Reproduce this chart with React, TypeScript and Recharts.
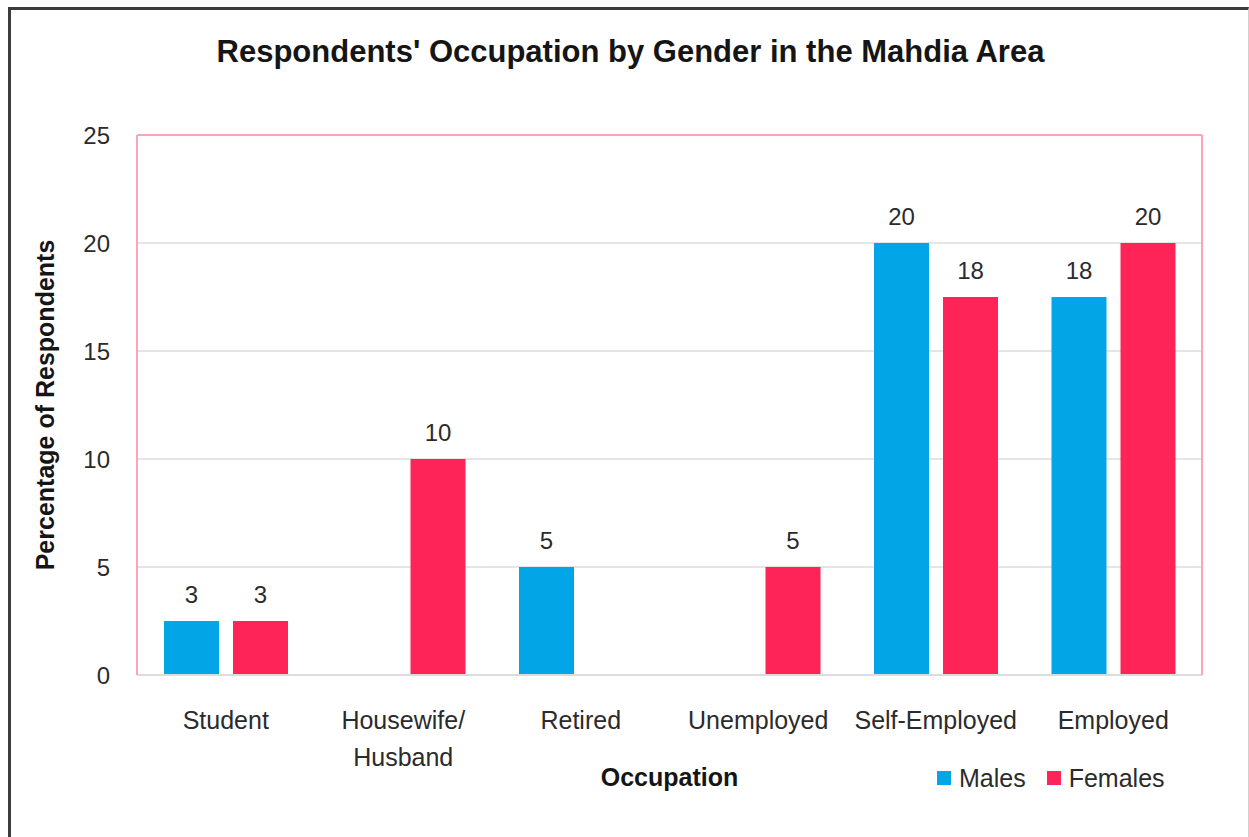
import React from "react";
import {
  BarChart,
  Bar,
  XAxis,
  YAxis,
  CartesianGrid,
  Legend,
  LabelList,
  ReferenceLine,
} from "recharts";

const occupations = [
  "Student",
  "Housewife/\nHusband",
  "Retired",
  "Unemployed",
  "Self-Employed",
  "Employed",
];
const males = [2.5, 0, 5, 0, 20, 17.5];
const females = [2.5, 10, 0, 5, 17.5, 20];
const yTicks = [0, 5, 10, 15, 20, 25];
const seriesOrder = ["Males", "Females"];

const data = occupations.map((name, i) => ({
  name,
  Males: males[i],
  Females: females[i],
}));

const FONT = "'Liberation Sans', Arial, sans-serif";
const BLUE = "#02A6E6";
const PINK = "#FF2458";
const BORDER_PINK = "#FFA3B8";
const GRID = "#DCDCDC";
const TEXT = "#2b2b2b";

const OccupationTick = ({ x, y, payload }: any) => {
  const lines = String(payload.value).split("\n");
  return (
    <text
      x={x}
      y={y + 54}
      textAnchor="middle"
      fontSize={25}
      fill={TEXT}
      fontFamily={FONT}
    >
      {lines.map((line, i) => (
        <tspan key={i} x={x} dy={i === 0 ? 0 : 37}>
          {line}
        </tspan>
      ))}
    </text>
  );
};

const GenderLegend = ({ payload }: any) => {
  const items = [...(payload || [])].sort(
    (a: any, b: any) => seriesOrder.indexOf(a.value) - seriesOrder.indexOf(b.value),
  );
  return (
    <div
      style={{
        display: "flex",
        alignItems: "center",
        height: 30,
        lineHeight: "30px",
        fontFamily: FONT,
        fontSize: 25,
        color: TEXT,
      }}
    >
      {items.map((entry: any, index: number) => (
        <div
          key={`legend-${index}`}
          style={{ display: "flex", alignItems: "center", marginRight: 21 }}
        >
          <div
            style={{
              width: 14,
              height: 14,
              backgroundColor: entry.color,
              marginRight: 8,
            }}
          />
          <span>{entry.value}</span>
        </div>
      ))}
    </div>
  );
};

const roundLabel = (v: any) => (v ? Math.round(Number(v)) : "");

export default function App() {
  return (
    <div
      style={{
        position: "absolute",
        left: 0,
        top: 0,
        width: 1249,
        height: 837,
        background: "#fff",
        overflow: "hidden",
      }}
    >
      <div
        style={{
          position: "absolute",
          left: 8,
          top: 7,
          width: 1241,
          height: 840,
          boxSizing: "border-box",
          borderTop: "3px solid #3c3c3c",
          borderLeft: "3px solid #3c3c3c",
          borderRight: "1px solid #d0d0d0",
        }}
      />
      <div
        style={{
          position: "absolute",
          left: 6,
          top: 36,
          width: 1249,
          textAlign: "center",
          fontFamily: FONT,
          fontSize: 31,
          fontWeight: "bold",
          lineHeight: "31px",
          color: "#151515",
        }}
      >
        Respondents' Occupation by Gender in the Mahdia Area
      </div>
      <div style={{ position: "absolute", left: 0, top: 0 }}>
        <BarChart
          width={1249}
          height={837}
          data={data}
          margin={{ top: 135, right: 0, left: 0, bottom: 12 }}
          barSize={55}
          barGap={14}
          style={{ fontFamily: FONT }}
        >
          <CartesianGrid
            yAxisId="left"
            vertical={false}
            stroke={GRID}
            strokeWidth={1.5}
          />
          <XAxis
            dataKey="name"
            height={120}
            tickSize={0}
            tickMargin={0}
            tick={<OccupationTick />}
            axisLine={{ stroke: GRID, strokeWidth: 2 }}
            tickLine={false}
            interval={0}
            label={{
              value: "Occupation",
              position: "insideBottom",
              offset: 9,
              fontSize: 25,
              fontWeight: "bold",
              fill: "#151515",
              fontFamily: FONT,
            }}
          />
          <YAxis
            yAxisId="left"
            width={137}
            domain={[0, 25]}
            ticks={yTicks}
            tickSize={0}
            tickMargin={27}
            tickLine={false}
            axisLine={{ stroke: BORDER_PINK, strokeWidth: 2 }}
            tick={{ fontSize: 24, fill: TEXT, fontFamily: FONT }}
            label={{
              value: "Percentage of Respondents",
              angle: -90,
              position: "insideLeft",
              offset: 45,
              fontSize: 25,
              fontWeight: "bold",
              fill: "#151515",
              fontFamily: FONT,
              style: { textAnchor: "middle" },
            }}
          />
          <YAxis
            yAxisId="right"
            orientation="right"
            width={47}
            domain={[0, 25]}
            tick={false}
            tickLine={false}
            axisLine={{ stroke: BORDER_PINK, strokeWidth: 2 }}
          />
          <ReferenceLine
            yAxisId="left"
            y={25}
            stroke={BORDER_PINK}
            strokeWidth={2}
          />
          <Legend
            verticalAlign="bottom"
            content={<GenderLegend />}
            wrapperStyle={{
              left: 937,
              top: 763,
              bottom: "auto",
              width: 280,
              height: 30,
            }}
          />
          <Bar
            yAxisId="left"
            dataKey="Males"
            name="Males"
            fill={BLUE}
            isAnimationActive={false}
          >
            <LabelList
              dataKey="Males"
              position="top"
              offset={18}
              formatter={roundLabel}
              style={{ fontSize: 24, fill: TEXT, fontFamily: FONT }}
            />
          </Bar>
          <Bar
            yAxisId="left"
            dataKey="Females"
            name="Females"
            fill={PINK}
            isAnimationActive={false}
          >
            <LabelList
              dataKey="Females"
              position="top"
              offset={18}
              formatter={roundLabel}
              style={{ fontSize: 24, fill: TEXT, fontFamily: FONT }}
            />
          </Bar>
        </BarChart>
      </div>
    </div>
  );
}
